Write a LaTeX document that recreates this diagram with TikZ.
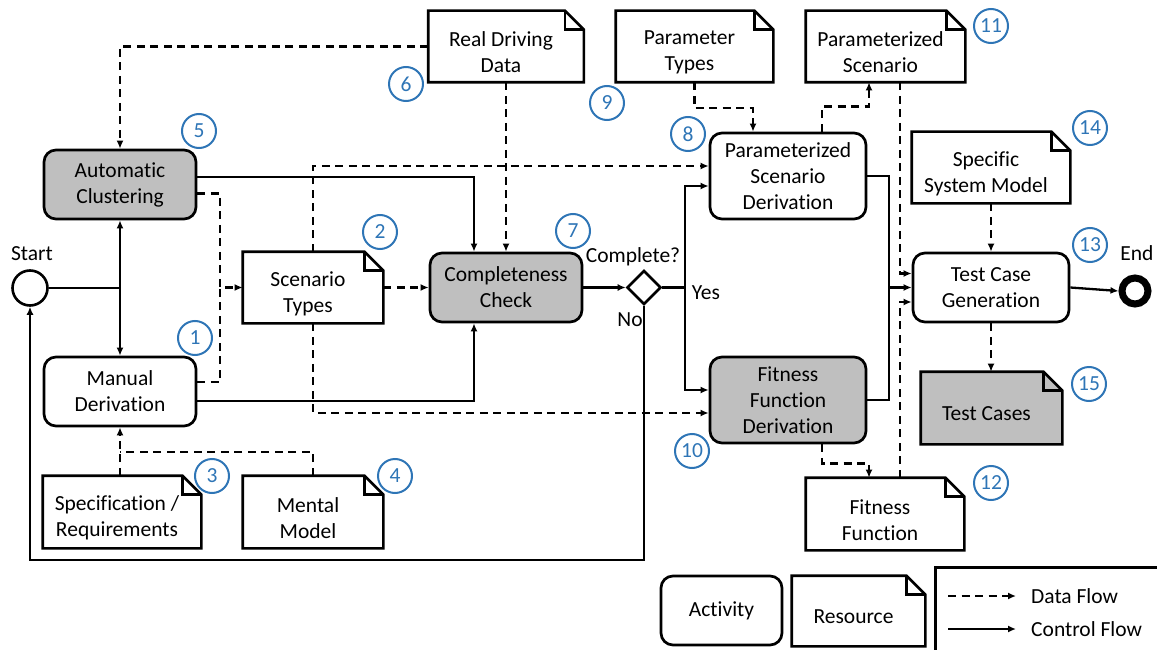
\documentclass[tikz,border=0pt]{standalone}
\usepackage{fontspec}
\setmainfont{Carlito}[Ligatures=NoCommon]
\usetikzlibrary{arrows.meta,shapes.geometric}
\definecolor{actgray}{HTML}{BFBFBF}
\definecolor{numblue}{HTML}{2E75B6}
\newlength\foldsz
\setlength\foldsz{19pt}
% [fill] name, cx, cy, width, height, text
\newcommand\resource[7][white]{%
  \node[resbox, fill=#1, minimum width=#5, minimum height=#6,
        label={[restext, name=#2-t]center:#7}] (#2) at (#3,#4) {};
  \fill[white] ([xshift=-\foldsz]#2.north east) -- (#2.north east) -- ([yshift=-\foldsz]#2.north east) -- cycle;
  \draw[resline] (#2.north west) -- ([xshift=-\foldsz]#2.north east) -- ([yshift=-\foldsz]#2.north east) -- (#2.south east) -- (#2.south west) -- cycle;
  \draw[resline] ([xshift=-\foldsz]#2.north east) |- ([yshift=-\foldsz]#2.north east);
}
\begin{document}
\begin{tikzpicture}[x=1pt,y=-1pt,
  font=\fontsize{21.5}{26}\selectfont,
  act/.style={draw, line width=2.7pt, rounded corners=12pt, align=center, inner sep=0pt},
  resbox/.style={inner sep=0pt, draw=none, outer sep=1.35pt},
  restext/.style={align=center, xshift=-5pt, yshift=-6pt, inner sep=0pt},
  resline/.style={line width=2.7pt, line join=miter},
  cline/.style={line width=2.3pt},
  ctrl/.style={cline, -{Latex[length=8pt,width=7pt]}},
  dline/.style={cline, dash pattern=on 8pt off 5.5pt},
  data/.style={dline, -{Latex[length=8pt,width=7pt]}},
  num/.style={circle, draw=numblue, text=numblue, line width=2pt, minimum size=34pt, inner sep=0pt},
  lbl/.style={inner sep=0pt}]
\useasboundingbox (0,0) rectangle (1157,650);

% activities
\node[act, fill=actgray, minimum width=152, minimum height=69] (ac) at (120,184.5) {Automatic\\Clustering};
\node[act, minimum width=152, minimum height=69] (md) at (120,391.5) {Manual\\Derivation};
\node[act, fill=actgray, minimum width=152, minimum height=69] (cc) at (506,287.5) {Completeness\\Check};
\node[act, minimum width=156, minimum height=86] (psd) at (788,176) {Parameterized\\Scenario\\Derivation};
\node[act, fill=actgray, minimum width=156, minimum height=86] (ffd) at (788,400) {Fitness\\Function\\Derivation};
\node[act, minimum width=156, minimum height=69] (tcg) at (991,287.5) {Test Case\\Generation};

% resources
\resource{st}{313}{287.5}{138}{69}{Scenario\\Types}
\resource{rdd}{506}{46.5}{153}{69}{Real Driving\\Data}
\resource{pt}{694.5}{46.5}{155}{69}{Parameter\\Types}
\resource{ps}{885.5}{46.5}{157}{69}{Parameterized\\Scenario}
\resource{ssm}{991}{167.5}{156}{69}{Specific\\System Model}
\resource[actgray]{tc}{991.5}{408}{139}{70}{Test Cases}
\resource{ff}{885}{514}{156}{70}{Fitness\\Function}
\resource{sr}{122}{512}{156}{70}{Specification /\\Requirements}
\resource{mm}{313}{512}{138}{70}{Mental\\Model}

% start / end / decision
\node[circle, draw, line width=2.6pt, minimum size=35pt, inner sep=0pt] (start) at (30,288) {};
\node[lbl] (startlbl) at (32,254) {Start};
\node[circle, draw, line width=7pt, minimum size=26pt, inner sep=0pt] (end) at (1135,291) {};
\node[lbl] (endlbl) at (1137,253) {End};
\node[diamond, draw, line width=2.6pt, minimum width=34pt, minimum height=34pt, inner sep=0pt, aspect=1] (dec) at (644,287.5) {};
\node[lbl] (qlbl) at (633,257) {Complete?};
\node[lbl] (yes) at (706,293) {Yes};
\node[lbl] (no) at (630,320) {No};

% numbers
\node[num] (n1) at (195,338) {1};
\node[num] (n2) at (380,232) {2};
\node[num] (n3) at (212,476) {3};
\node[num] (n4) at (395,476) {4};
\node[num] (n5) at (199,131) {5};
\node[num] (n6) at (406,84) {6};
\node[num] (n7) at (573,231) {7};
\node[num] (n8) at (688,134) {8};
\node[num] (n9) at (607,103) {9};
\node[num] (n10) at (692,451) {10};
\node[num] (n11) at (991,26) {11};
\node[num] (n12) at (991,483) {12};
\node[num] (n13) at (1090,245) {13};
\node[num] (n14) at (1090,128) {14};
\node[num] (n15) at (1089,384) {15};

% control flow
\draw[cline] (start.east) -- (start -| ac);
\draw[ctrl] (start -| ac) -- (ac.south);
\draw[ctrl] (start -| ac) -- (md.north);
\draw[ctrl] ([yshift=7.5pt]ac.east) -| ([xshift=-32pt]cc.north);
\draw[ctrl] ([yshift=-9.5pt]md.east) -| ([xshift=-32pt]cc.south);
\draw[ctrl] (cc.east) -- (dec.west);
\coordinate (j2) at (685,287.5);
\draw[cline] (dec.east) -- (j2);
\draw[ctrl] (j2) |- ([yshift=-10pt]psd.west);
\draw[ctrl] (j2) |- ([yshift=10pt]ffd.west);
\coordinate (loop) at (0,560);
\draw[ctrl] (dec.south) -- (dec.south |- loop) -| (start.south);
\coordinate (j3) at (889,287.5);
\draw[cline] (psd.east) -| (j3);
\draw[cline] (ffd.east) -| (j3);
\draw[ctrl] (j3) -- (tcg.west);
\draw[ctrl] (tcg.east) -- (end.west);

% data flow
\draw[data] (rdd.west) -| (ac.north);
\draw[data] (rdd.south) -- (cc.north);
\coordinate (j4) at (220,287.5);
\draw[data] ([yshift=-9pt]ac.east) -| (j4) -- (st.west);
\draw[dline] ([yshift=9.5pt]md.east) -| (j4);
\draw[data] (st.east) -- (cc.west);
\draw[data] (st.north) |- ([yshift=10pt]psd.west);
\draw[data] (st.south) |- ([yshift=-13pt]ffd.west);
\draw[data] (md.south |- sr.north) -- (md.south);
\coordinate (j5) at (120,452);
\draw[dline] (mm.north) |- (j5);
\draw[data] (pt.south) -- ++(0,26) -| ([xshift=-35pt]psd.north);
\draw[data] ([xshift=34pt]psd.north) -- ++(0,-25) -| ([xshift=-16.5pt]ps.south);
\draw[data] ([xshift=14.5pt]ps.south) |- ([yshift=14pt]tcg.west);
\draw[data] ([xshift=15pt]ff.north) |- ([yshift=-14.5pt]tcg.west);
\draw[data] ([xshift=34pt]ffd.south) -- ++(0,19) -| ([xshift=-16pt]ff.north);
\draw[data] (ssm.south) -- (tcg.north);
\draw[data] (tcg.south) -- (tcg.south |- tc.north);

% legend
\node[act, minimum width=121, minimum height=69] (lact) at (721.5,610.5) {Activity};
\resource{lres}{858.5}{611}{131}{68}{Resource}
\node[draw, line width=2.7pt, minimum width=250pt, minimum height=110pt, anchor=north west] (legend) at (934,566) {};
\coordinate (ld1) at (948,596);
\coordinate (ld2) at (1016,596);
\coordinate (lc1) at (948,629);
\coordinate (lc2) at (1016,629);
\draw[data] (ld1) -- (ld2);
\draw[ctrl] (lc1) -- (lc2);
\node[lbl, anchor=west] (ldf) at (1031,596) {Data Flow};
\node[lbl, anchor=west] (lcf) at (1031,629) {Control Flow};
\end{tikzpicture}
\end{document}
